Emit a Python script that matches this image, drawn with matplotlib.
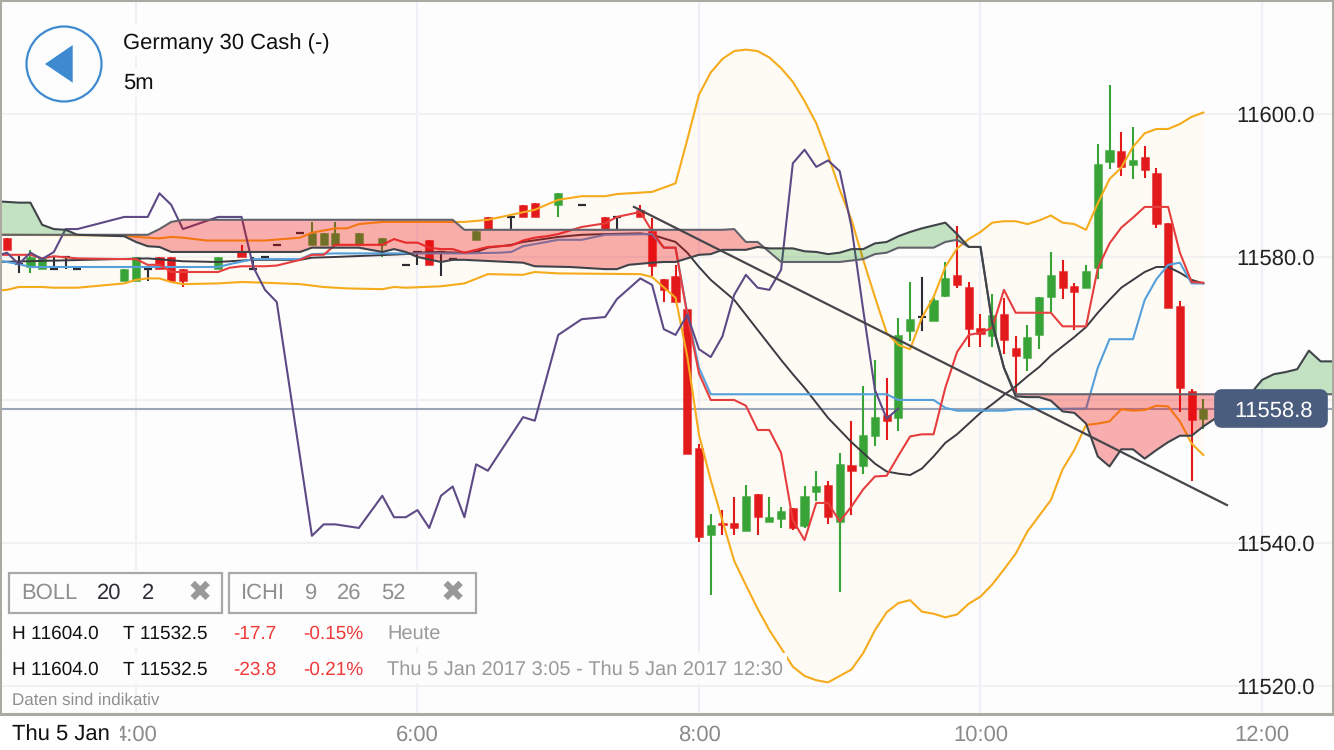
import numpy as np
import matplotlib
matplotlib.use("Agg")
import matplotlib.pyplot as plt
from matplotlib.patches import Rectangle, Circle, Polygon, FancyBboxPatch

plt.rcParams['font.family'] = ['Liberation Sans', 'DejaVu Sans']
plt.rcParams['text.hinting'] = 'no_hinting'
plt.rcParams['text.hinting_factor'] = 1

# ---------- candles: number of 5-minute bars after 3:00 is idx + 1 ----------
candle_idx = [0,1,2,3,4,5,6,10,11,12,13,14,15,18,20,21,22,23,25,26,27,28,30,32,34,35,36,37,38,40,41,43,44,45,47,49,51,52,54,55,56,57,
              58,59,60,61,62,63,64,65,66,67,68,69,70,71,72,73,74,75,76,77,78,79,80,81,82,83,84,85,86,87,88,89,90,91,92,93,94,95,96,97,98,99,100,101,102]
opens = [11582.7,11579.0,11578.6,11578.3,11578.3,11580.0,11578.3,11576.6,11576.6,11578.3,11580.0,11580.0,11578.3,11578.3,11580.8,11578.3,11580.0,11581.7,11583.4,11581.7,11581.7,11581.7,11581.7,11581.7,11578.9,11580.7,11582.4,11580.7,11579.7,11582.4,11585.6,11585.6,11587.2,11587.6,11587.3,11587.3,11585.6,11585.6,11586.5,11583.6,11576.9,11577.3,
         11572.7,11553.3,11541.1,11542.8,11542.8,11541.7,11546.9,11542.9,11543.4,11544.9,11542.4,11547.1,11548.1,11543.0,11550.9,11550.7,11555.0,11557.9,11557.5,11569.7,11571.6,11571.1,11574.5,11577.5,11575.8,11570.1,11568.9,11572.0,11567.3,11565.9,11569.1,11574.4,11578.0,11576.0,11575.6,11578.4,11593.3,11594.8,11592.9,11594.0,11591.8,11584.8,11573.1,11561.3,11557.4]
highs = [11582.7,11580.1,11581.0,11579.9,11580.0,11580.0,11578.3,11578.3,11580.0,11578.3,11580.0,11580.0,11578.3,11580.0,11581.7,11580.0,11580.0,11581.7,11583.4,11584.9,11583.4,11584.9,11583.4,11582.7,11578.9,11580.7,11582.4,11580.7,11579.7,11583.7,11585.6,11585.6,11587.2,11587.6,11589.0,11587.3,11585.6,11585.6,11587.3,11585.5,11576.9,11578.9,
         11572.7,11553.8,11544.1,11544.6,11546.4,11548.1,11546.9,11546.4,11545.1,11544.9,11547.9,11550.1,11548.6,11552.6,11557.1,11561.9,11565.6,11563.1,11571.5,11576.5,11577.2,11574.3,11579.3,11584.3,11576.5,11572.0,11574.8,11574.3,11569.0,11570.5,11574.4,11580.7,11579.6,11576.4,11578.9,11595.8,11604.0,11597.5,11598.2,11595.5,11592.4,11584.8,11573.8,11561.5,11560.1]
lows = [11581.0,11577.8,11577.8,11578.3,11578.3,11578.3,11578.3,11576.6,11576.6,11576.6,11578.3,11576.6,11575.8,11578.3,11580.0,11578.3,11580.0,11581.7,11583.4,11581.7,11581.7,11581.7,11581.7,11580.0,11578.9,11578.9,11578.9,11577.4,11579.7,11582.4,11583.9,11583.9,11585.6,11585.6,11585.6,11587.3,11583.9,11583.9,11585.6,11577.3,11573.7,11573.7,
        11552.4,11540.2,11532.7,11541.1,11541.1,11541.7,11541.1,11542.9,11542.1,11541.8,11542.1,11545.9,11542.7,11533.1,11543.9,11549.7,11553.6,11554.4,11555.6,11568.2,11569.6,11571.1,11574.4,11575.7,11567.4,11567.4,11567.4,11566.4,11561.0,11564.1,11567.1,11572.2,11574.1,11569.8,11575.6,11576.9,11592.3,11591.3,11590.9,11591.0,11584.1,11572.9,11558.3,11548.6,11555.9]
closes = [11581.0,11579.0,11580.0,11579.9,11578.3,11580.0,11578.3,11578.3,11580.0,11578.3,11578.3,11576.6,11576.6,11580.0,11580.0,11578.3,11580.0,11581.7,11583.4,11583.4,11583.4,11583.4,11583.4,11582.7,11578.9,11580.7,11578.9,11580.7,11579.7,11583.7,11583.9,11585.6,11585.6,11585.6,11589.0,11587.3,11583.9,11585.6,11585.6,11578.7,11575.4,11573.7,
          11552.4,11540.9,11542.5,11542.5,11542.1,11546.6,11543.7,11543.6,11544.5,11542.1,11546.6,11547.9,11543.6,11551.1,11550.1,11555.1,11557.6,11557.1,11569.1,11571.3,11571.6,11574.0,11577.1,11576.1,11569.9,11569.2,11571.9,11568.4,11566.1,11568.8,11574.4,11577.5,11575.7,11575.1,11578.0,11593.0,11595.0,11592.6,11593.5,11592.1,11584.6,11572.9,11561.7,11557.2,11558.8]

# ---------- Bollinger bands ----------
upper_idx = [-1,0,10,11,12,13,14,15,17,20,22,25,26,28,29,30,32,38,39,41,43,45,47,49,51,52,55,57,58,59,60,61,62,63,64,65,66,67,68,69,70,71,72,73,74,75,76,77,78,79,80,81,82,83,84,85,86,87,88,89,90,91,92,93,94,95,96,97,98,99,100,101,102]
upper_val = [11583.1,11583.1,11583.0,11582.8,11582.7,11582.6,11582.8,11582.7,11582.3,11582.3,11582.3,11582.7,11583.4,11584.0,11584.0,11584.6,11584.9,11584.9,11584.9,11585.2,11585.9,11586.6,11588.0,11588.5,11588.5,11588.8,11589.1,11590.3,11596.4,11602.7,11605.8,11607.7,11608.8,11609.0,11608.8,11607.9,11606.4,11604.5,11601.8,11598.7,11594.3,11589.4,11585.2,11579.6,11574.4,11569.4,11567.7,11567.1,11571.5,11574.4,11578.6,11581.2,11582.5,11583.5,11584.8,11585.0,11585.0,11584.6,11585.1,11585.8,11584.8,11584.6,11583.8,11587.5,11590.9,11592.5,11595.4,11597.3,11597.9,11597.9,11598.6,11599.6,11600.2]
lower_idx = [-1,0,1,2,3,4,6,10,11,12,13,14,15,18,20,22,25,27,29,32,33,34,37,39,41,44,45,47,54,55,57,58,59,60,61,62,63,64,65,66,67,68,69,70,71,72,73,74,75,76,77,78,79,80,81,82,83,84,85,86,87,88,89,90,91,92,93,94,95,96,97,98,99,100,101,102]
lower_val = [11575.3,11575.4,11575.8,11575.8,11575.8,11575.7,11575.7,11576.3,11576.8,11577.0,11577.0,11576.5,11576.2,11576.3,11576.5,11576.4,11576.2,11575.8,11575.6,11575.5,11575.8,11575.7,11575.9,11576.3,11577.6,11577.5,11577.9,11577.7,11577.6,11577.2,11574.3,11566.1,11555.1,11548.8,11543.1,11537.5,11534.1,11530.8,11527.8,11525.3,11522.7,11521.4,11520.8,11520.5,11521.4,11522.3,11524.6,11527.8,11530.3,11531.6,11532.0,11530.4,11530.1,11529.6,11530.0,11531.5,11532.5,11534.2,11536.3,11538.5,11541.6,11543.8,11546.0,11550.3,11553.0,11556.5,11556.7,11557.0,11558.7,11558.5,11558.6,11559.2,11559.1,11557.0,11553.9,11552.3]
mid_idx = [-1,12,15,18,21,25,26,28,34,36,39,40,41,43,44,47,49,51,54,55,57,58,59,60,61,62,63,64,65,66,67,68,69,70,71,72,73,74,75,76,77,78,79,80,81,82,83,84,85,86,87,88,89,90,91,92,93,94,95,96,97,98,99,100,101,102]
mid_val = [11579.3,11579.8,11579.4,11579.3,11579.6,11579.6,11579.9,11580.0,11580.4,11580.7,11580.6,11580.7,11581.3,11581.7,11582.1,11582.8,11583.1,11583.2,11583.3,11583.1,11582.1,11580.6,11578.6,11576.8,11575.4,11574.0,11571.9,11569.8,11567.7,11565.6,11563.6,11561.7,11559.6,11557.5,11555.8,11554.1,11552.6,11551.1,11550.0,11549.7,11549.5,11550.4,11552.1,11554.0,11555.2,11556.7,11558.2,11559.4,11560.7,11561.9,11563.3,11564.6,11566.2,11567.5,11568.8,11570.2,11572.2,11574.0,11575.7,11576.8,11577.9,11578.6,11578.6,11577.8,11576.8,11576.3]

# ---------- Ichimoku ----------
tenkan_idx = [-1,2,3,4,6,10,11,12,13,14,18,19,20,22,23,25,26,27,28,32,33,34,35,36,37,38,39,40,41,43,44,45,46,47,49,51,52,54,55,56,57,58,59,60,62,63,64,65,66,67,68,69,70,71,72,73,74,75,76,77,78,79,80,81,82,83,84,85,86,89,90,92,93,94,95,96,97,99,100,101,102]
tenkan_val = [11580.3,11580.3,11579.8,11580.1,11579.8,11579.7,11579.7,11578.9,11578.9,11577.9,11577.9,11578.5,11578.7,11578.7,11578.8,11579.6,11580.3,11580.3,11581.7,11581.7,11582.5,11582.0,11582.0,11581.3,11581.1,11581.1,11580.6,11581.0,11581.4,11581.6,11582.3,11582.7,11582.9,11583.2,11584.2,11584.7,11585.6,11586.3,11583.6,11581.3,11581.3,11571.9,11563.7,11560.0,11560.0,11559.2,11555.8,11555.8,11552.6,11543.2,11540.4,11545.6,11545.6,11543.0,11545.1,11547.5,11549.3,11549.4,11552.2,11554.9,11555.2,11555.2,11561.7,11566.7,11569.1,11569.4,11570.1,11575.4,11572.2,11572.2,11570.3,11570.3,11578.4,11581.9,11584.1,11585.5,11587.0,11587.0,11580.6,11576.5,11576.4]
kijun_idx = [-1,1,2,18,19,21,25,26,28,39,42,43,44,47,49,51,55,56,57,58,59,60,75,76,79,80,81,85,86,92,93,94,96,97,98,99,100,101,102]
kijun_val = [11579.6,11579.0,11578.6,11578.6,11579.0,11579.7,11579.7,11580.4,11580.5,11580.5,11580.6,11580.7,11581.5,11582.4,11582.4,11583.1,11583.2,11581.3,11581.3,11572.2,11564.5,11560.8,11560.8,11560.0,11560.0,11558.9,11558.5,11558.5,11558.7,11558.8,11564.5,11568.5,11568.5,11574.0,11576.9,11578.9,11579.2,11576.3,11576.3]
chikou_idx = [-1,0,1,2,3,4,5,6,10,12,13,14,15,18,20,21,22,23,26,27,28,30,32,33,34,35,36,37,38,39,40,41,44,45,47,49,51,52,54,55,56,57,58,59,60,61,62,63,64,65,66,67,68,69,70,71,72,73,74,75,76]
chikou_val = [11580.1,11580.6,11579.0,11580.6,11579.7,11580.7,11583.9,11583.9,11585.6,11585.6,11588.9,11587.3,11583.9,11585.6,11585.6,11578.6,11575.4,11573.7,11541.0,11542.6,11542.6,11542.1,11546.6,11543.6,11543.6,11544.6,11542.1,11546.6,11547.9,11543.6,11551.0,11550.1,11557.6,11557.1,11569.1,11571.3,11571.6,11574.1,11577.0,11576.1,11569.9,11569.1,11571.9,11567.1,11566.0,11568.9,11574.7,11577.5,11575.7,11575.4,11578.2,11593.1,11595.0,11592.6,11593.5,11592.0,11584.2,11572.6,11561.4,11557.4,11558.8]
span_idx = [-1,1,2,3,4,5,6,10,11,12,13,14,15,25,26,28,30,31,32,33,34,35,37,38,39,44,45,48,51,52,53,55,56,57,58,59,60,61,62,63,64,65,66,67,68,69,70,71,72,73,74,75,76,77,78,79,80,81,82,83,84,85,86,87,88,89,90,91,92,93,94,95,96,97,98,99,100,101,102,103,104,105,106,107,108,109,110,111,112,113,114]
span_a = [11587.8,11587.6,11587.6,11584.5,11583.9,11583.8,11583.1,11582.9,11582.1,11581.5,11581.4,11580.7,11580.7,11580.7,11581.3,11581.3,11581.3,11581.0,11580.7,11581.1,11580.7,11580.0,11579.3,11579.6,11579.6,11579.2,11578.7,11578.6,11578.3,11578.3,11578.9,11579.2,11579.3,11579.3,11579.8,11580.3,11580.4,11581.0,11581.0,11581.0,11581.4,11581.2,11581.2,11581.2,11580.8,11580.7,11580.4,11580.6,11581.1,11581.1,11581.9,11582.1,11582.9,11583.5,11584.0,11584.4,11584.8,11583.2,11581.4,11581.4,11570.8,11564.5,11560.5,11560.4,11560.4,11559.9,11558.4,11558.2,11556.7,11552.1,11550.7,11553.1,11553.1,11551.8,11553.0,11554.1,11555.0,11555.0,11556.3,11557.4,11558.6,11559.9,11560.8,11562.8,11563.6,11563.9,11564.3,11566.9,11565.4,11565.4,11565.4]
span_b = [11583.1,11583.1,11583.1,11583.1,11583.1,11583.1,11583.1,11583.1,11583.1,11583.1,11583.9,11584.9,11585.2,11585.2,11585.2,11585.2,11585.2,11585.2,11585.2,11585.2,11585.2,11585.2,11585.2,11585.2,11583.8,11583.8,11583.8,11583.8,11583.8,11583.8,11583.8,11583.8,11583.8,11583.8,11583.8,11583.8,11583.8,11583.8,11583.9,11582.1,11582.1,11580.7,11579.3,11579.3,11579.3,11579.3,11579.3,11579.3,11579.5,11579.7,11580.4,11580.6,11581.3,11581.3,11581.3,11581.3,11582.1,11582.4,11581.4,11581.4,11570.8,11564.5,11560.8,11560.8,11560.8,11560.8,11560.8,11560.8,11560.8,11560.8,11560.8,11560.8,11560.8,11560.8,11560.8,11560.8,11560.8,11560.8,11560.8,11560.8,11560.8,11560.8,11560.8,11560.8,11560.8,11560.8,11560.8,11560.8,11560.8,11560.8,11560.8]

# ---------- trend line, price, axes labels ----------
trend_hours = [7.538, 11.751]
trend_vals = [11587.0, 11545.3]
last_price = 11558.8
x_ticks = [4, 6, 8, 10, 12]
x_labels = ['4:00', '6:00', '8:00', '10:00', '12:00']
y_ticks = [11520, 11540, 11560, 11580, 11600]
y_labels = ['11520.0', '11540.0', '', '11580.0', '11600.0']


def hours(idx):
    return 3 + (np.asarray(idx, dtype=float) + 1) / 12


W, H = 1334, 750
fig = plt.figure(figsize=(W / 100, H / 100), dpi=100, facecolor='white')
ax = fig.add_axes([0, 36 / 750, 1, 714 / 750], facecolor='#fdfdfd')
ax.set_xlim(3.0338, 12.5116)
ax.set_ylim(11516.08, 11615.94)

ax.set_axisbelow(True)
ax.set_xticks(x_ticks, x_labels)
ax.set_yticks(y_ticks, y_labels)
ax.xaxis.grid(True, color='#eef0f8', lw=1.5)
ax.yaxis.grid(True, color='#f1f1f1', lw=1.5)
ax.yaxis.tick_right()
ax.tick_params(axis='x', length=0, pad=7.5, labelsize=15.8, labelcolor='#8a8a8a')
ax.tick_params(axis='y', length=0, pad=-70.5, labelsize=15.9, labelcolor='#222222')
for lab in ax.get_yticklabels():
    lab.set_zorder(20)
for name, sp in ax.spines.items():
    sp.set_color('#aaaaa3')
    sp.set_linewidth(2.2 if name == 'bottom' else 2.9)
    sp.set_zorder(30)

# Bollinger body
ax.fill(np.r_[hours(upper_idx), hours(lower_idx)[::-1]],
        np.r_[upper_val, lower_val[::-1]], color='#fefbf5', lw=0, zorder=0.3)

# candles
t = hours(candle_idx)
o, h, l, c = map(np.asarray, (opens, highs, lows, closes))
GREEN, RED, DOJI = '#38a438', '#e31a1c', '#2c2c34'
cols = np.where(c > o, GREEN, np.where(c < o, RED, DOJI))
ax.vlines(t, l, h, colors=cols, lw=1.5, zorder=1.5)
body = c != o
ax.bar(t[body], np.abs(c - o)[body], bottom=np.minimum(o, c)[body], width=0.058,
       color=cols[body], linewidth=0.8, edgecolor=[(*matplotlib.colors.to_rgb(k), 0.45) for k in cols[body]], zorder=1.6)
ax.hlines(o[~body], t[~body] - 0.029, t[~body] + 0.029, colors=DOJI, lw=1.6, zorder=1.6)

# indicator lines
ax.axhline(last_price, color='#9aa5b8', lw=1.5, zorder=1.4)
ax.plot(hours(upper_idx), upper_val, color='#f6ab1c', lw=1.5, zorder=2)
ax.plot(hours(lower_idx), lower_val, color='#f6ab1c', lw=1.5, zorder=2)
ax.plot(hours(mid_idx), mid_val, color='#3a3a40', lw=1.4, zorder=2)
ax.plot(hours(kijun_idx), kijun_val, color='#559fdb', lw=1.5, zorder=2)
ax.plot(hours(tenkan_idx), tenkan_val, color='#e63e3e', lw=1.5, zorder=2)
ax.plot(hours(chikou_idx), chikou_val, color='#5d4a85', lw=1.5, zorder=2)

# Ichimoku cloud on top of candles and lines
st = hours(span_idx)
a = np.asarray(span_a)
b = np.asarray(span_b)
ax.fill_between(st, a, b, where=a <= b, interpolate=True, color='#f00000', alpha=0.31, lw=0, zorder=3)
ax.fill_between(st, a, b, where=a >= b, interpolate=True, color='#008a00', alpha=0.23, lw=0, zorder=3)
ax.plot(st, b, color='#62626c', lw=1.5, zorder=3.1)
ax.plot(st, a, color='#40444a', lw=1.5, zorder=3.2)

# trend line
ax.plot(trend_hours, trend_vals, color='#45454a', lw=1.6, zorder=4)

# ---------- pixel overlay ----------
ov = fig.add_axes([0, 0, 1, 1], facecolor='none')
ov.set_xlim(0, W)
ov.set_ylim(H, 0)
ov.axis('off')
BG = '#fdfdfd'
for x0, y0, x1, y1, col in [(2, 570, 490, 647, BG), (2, 653, 787, 683, BG), (120, 25, 332, 57, BG),
                            (120, 68, 156, 97, BG), (0, 716, 120, 750, 'white')]:
    ov.add_patch(Rectangle((x0, y0), x1 - x0, y1 - y0, fc=col, ec='none', zorder=1))

# back button
ov.add_patch(Circle((64, 64), 37.5, fc='#fdfdfd', ec='#3e8ad0', lw=1.6, zorder=2))
ov.add_patch(Polygon([(45, 64), (72.7, 45), (72.7, 82.7)], closed=True, fc='#3e8ad0', ec='none', zorder=3))


def txt(x, y, s, size=14.2, color='black', **kw):
    ov.text(x, y, s, fontsize=size, color=color, va='center_baseline', ha=kw.pop('ha', 'left'), zorder=5, **kw)


txt(123, 41, 'Germany 30 Cash (-)', 15.6, '#111111')
txt(123, 81, '5m', 15.6, '#111111')

# indicator chips
for x0, x1 in [(9, 222), (229, 476)]:
    ov.add_patch(Rectangle((x0, 573), x1 - x0, 40, fc='#fdfdfd', ec='#a8a8a8', lw=1.6, zorder=2))
GR = '#8f8f8f'
txt(21, 591, 'BOLL', 15.8, GR)
txt(97, 591, '20', 15.8, '#2c2c34')
txt(142, 591, '2', 15.8, '#2c2c34')
txt(241, 591, 'ICHI', 15.8, GR)
txt(305, 591, '9', 15.8, GR)
txt(337, 591, '26', 15.8, GR)
txt(381, 591, '52', 15.8, GR)
ov.text(200, 593, '\u2716', fontsize=21, color='#999999', ha='center', va='center', family='DejaVu Sans', zorder=5)
ov.text(453, 593, '\u2716', fontsize=21, color='#999999', ha='center', va='center', family='DejaVu Sans', zorder=5)

# statistics rows
for y, chg, pct, note in [(632, '-17.7', '-0.15%', 'Heute'),
                          (668, '-23.8', '-0.21%', 'Thu 5 Jan 2017 3:05 - Thu 5 Jan 2017 12:30')]:
    txt(12, y, 'H 11604.0', 14.0, '#111111')
    txt(123, y, 'T 11532.5', 14.0, '#111111')
    txt(233, y, chg, 14.0, '#f03a3a')
    txt(303, y, pct, 14.0, '#f03a3a')
    txt(387, y, note, 14.4, '#9a9a9a')
txt(12, 699, 'Daten sind indikativ', 12.1, '#8f8f8f')
txt(12, 733, 'Thu 5 Jan', 15.6, '#111111')

# last price label
ov.add_patch(FancyBboxPatch((1218, 393), 106, 31, boxstyle='round,pad=0,rounding_size=4', mutation_aspect=1,
                            fc='#4a5d7e', ec='#4a5d7e', lw=5.5, zorder=4))
ov.text(1274, 409, '11558.8', fontsize=15.9, color='white', ha='center', va='center_baseline', zorder=5)

fig.savefig('out.png', dpi=100, facecolor='white')
